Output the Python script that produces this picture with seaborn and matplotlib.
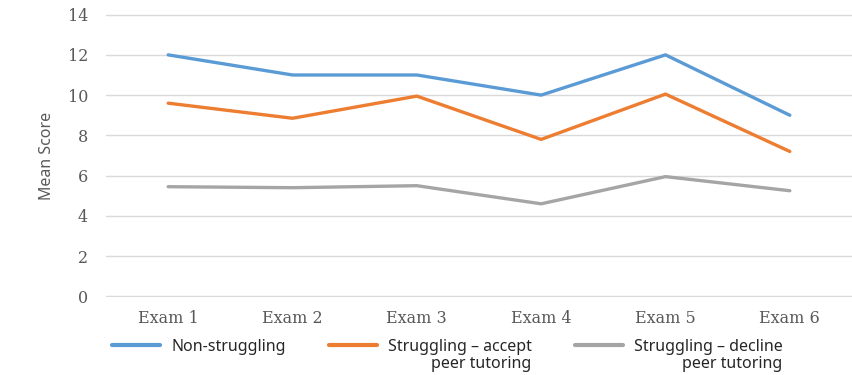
import matplotlib
matplotlib.use("Agg")
import matplotlib.pyplot as plt
import seaborn as sns
import pandas as pd
from matplotlib.lines import Line2D

exams = ["Exam 1", "Exam 2", "Exam 3", "Exam 4", "Exam 5", "Exam 6"]
non_struggling = [12.0, 11.0, 11.0, 10.0, 12.0, 9.0]
accept_tutoring = [9.6, 8.85, 9.95, 7.8, 10.05, 7.2]
decline_tutoring = [5.45, 5.4, 5.5, 4.6, 5.95, 5.25]
series_names = ["Non-struggling", "Struggling \u2013 accept", "Struggling \u2013 decline"]
second_line = ["", "peer tutoring", "peer tutoring"]
colors = ["#5B9BD5", "#ED7D31", "#A5A5A5"]
y_ticks = [0, 2, 4, 6, 8, 10, 12, 14]

sns.set_theme(style="white")
plt.rcParams["font.family"] = ["Noto Sans", "DejaVu Sans"]

rows = []
for name, vals in zip(series_names, [non_struggling, accept_tutoring, decline_tutoring]):
    for ex, v in zip(exams, vals):
        rows.append({"Exam": ex, "Score": v, "Group": name})
df = pd.DataFrame(rows)

fig = plt.figure(figsize=(8.52, 3.75), dpi=100)
ax = fig.add_axes([106 / 852, 78 / 375, 746 / 852, 283 / 375])

sns.lineplot(data=df, x="Exam", y="Score", hue="Group", palette=colors,
             linewidth=2.4, ax=ax, legend=False, sort=False)

ax.set_xlim(-0.5, 5.5)
ax.set_ylim(-0.03, 14.03)
ax.set_yticks(y_ticks)
ax.yaxis.grid(True, color="#D9D9D9", linewidth=1.0)
ax.set_axisbelow(True)
for s in ax.spines.values():
    s.set_visible(False)
ax.tick_params(axis="both", length=0, colors="#595959")
ax.tick_params(axis="y", pad=13)
ax.tick_params(axis="x", pad=9.5)
for lab in ax.get_xticklabels() + ax.get_yticklabels():
    lab.set_fontfamily("DejaVu Serif")
    lab.set_fontsize(11.5)
    lab.set_color("#595959")
ax.set_xlabel("")
ax.set_ylabel("Mean Score", fontsize=11.5, color="#595959", labelpad=9)

leg_fs = 11.5
handles = [Line2D([], [], color=c, linewidth=3.0) for c in colors]
leg = fig.legend(handles, series_names, loc="center left",
                 bbox_to_anchor=(112 / 852, 1 - 347 / 375), ncol=3, frameon=False,
                 fontsize=leg_fs, handlelength=3.0, handletextpad=0.7,
                 columnspacing=2.7, borderaxespad=0, borderpad=0)
for t in leg.get_texts():
    t.set_color("#262626")

fig.canvas.draw()
renderer = fig.canvas.get_renderer()
inv = fig.transFigure.inverted()
for t, extra in zip(leg.get_texts(), second_line):
    if not extra:
        continue
    bb = t.get_window_extent(renderer)
    x1, y0 = inv.transform((bb.x1, bb.y0))
    fig.text(x1, y0 - 1 / 375, extra, ha="right", va="top", fontsize=leg_fs, color="#262626")

fig.savefig("out.png", dpi=100)
